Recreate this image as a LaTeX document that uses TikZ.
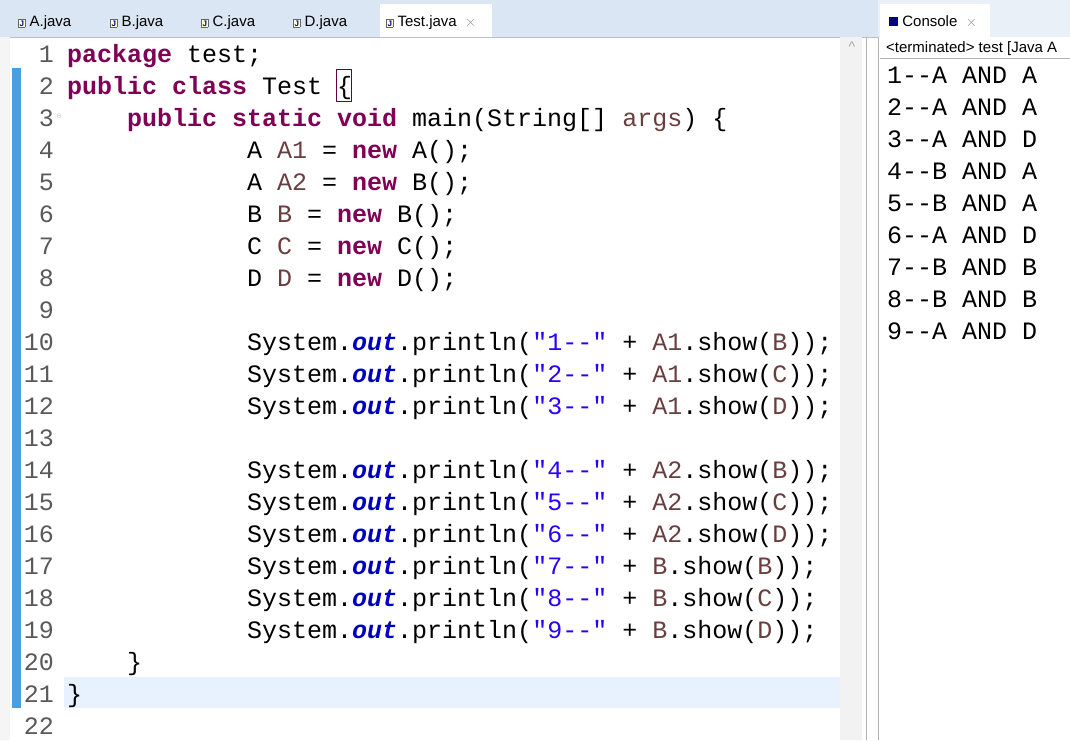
\documentclass[tikz,border=0pt]{standalone}
\usepackage{fontspec}
\setmainfont{Liberation Sans}
\setmonofont{Liberation Mono}
\usetikzlibrary{positioning}
\definecolor{kwcol}{HTML}{7F0055}
\definecolor{strcol}{HTML}{2A00FF}
\definecolor{fldcol}{HTML}{0000C0}
\definecolor{varcol}{HTML}{6A3E3E}
\definecolor{tabbar}{HTML}{DAE6F4}
\definecolor{curline}{HTML}{E8F2FE}
\definecolor{gutblue}{HTML}{4A9FE0}
\newcommand{\kw}[1]{\textcolor{kwcol}{\bfseries #1}}
\newcommand{\str}[1]{\textcolor{strcol}{#1}}
\newcommand{\fld}[1]{\textcolor{fldcol}{\bfseries\itshape #1}}
\newcommand{\vr}[1]{\textcolor{varcol}{#1}}
\newcommand{\prn}[2]{System.\fld{out}.println(\str{"#1--"} + #2);}
\newcommand{\jicon}{\fcolorbox{black!60}{yellow!15}{\fontsize{8}{8}\selectfont\bfseries\textcolor{blue!50!black}{J}}}
\begin{document}
\begin{tikzpicture}[x=1pt,y=-1pt,
  code/.style={anchor=base west,inner sep=0pt,font=\ttfamily\fontsize{25}{25}\selectfont},
  lnum/.style={anchor=base east,inner sep=0pt,text=black!65,font=\ttfamily\fontsize{25}{25}\selectfont},
  tab/.style={anchor=base west,inner sep=0pt,font=\fontsize{15}{15}\selectfont}]
\useasboundingbox (0,0) rectangle (1070,740);
\setlength{\fboxsep}{1pt}
% Tab bars
\fill[tabbar] (0,0) rectangle (878,37);
\fill[tabbar!60] (878,0) rectangle (1070,37);
\fill[white] (380,4) rectangle (492,37);
\fill[white] (880,4) rectangle (990,37);
\draw[black!25] (0,37) -- (878,37);
% Editor
\fill[black!4] (0,37) rectangle (10,740);
\fill[black!5] (840,37) rectangle (862,740);
\draw[black!30] (866,37) -- (866,740);
\draw[black!30] (878,37) -- (878,740);
\fill[curline] (64,677) rectangle (840,708);
\fill[gutblue] (12,68) rectangle (21,708);
\node[text=black!35,font=\fontsize{14}{14}\selectfont] (scrollup) at (852,47) {\^{}};
% Tabs
\node[tab] (tA) at (18,26) {\jicon\ A.java};
\node[tab] (tB) at (110,26) {\jicon\ B.java};
\node[tab] (tC) at (201,26) {\jicon\ C.java};
\node[tab] (tD) at (293,26) {\jicon\ D.java};
\node[tab] (tT) at (386,26) {\jicon\ Test.java\ \ \textcolor{black!45}{$\times$}};
\node[tab] (tCon) at (889,26) {\textcolor{blue!50!black}{\rule{9pt}{9pt}}\ Console\ \ \textcolor{black!45}{$\times$}};
% Line numbers
\foreach \n in {1,...,22}
  \node[lnum] (ln\n) at (54,{53+32*(\n-1)+9}) {\n};
\node[text=black!50,font=\tiny] (fold) at (59,116) {$\ominus$};
% Code
\node[code] (c1) at (67,62) {\kw{package} test;};
\node[code] (c2) at (67,94) {\kw{public} \kw{class} Test \{};
\draw[kwcol!80!black] (336,69) rectangle (351,101);
\node[code] (c3) at (127,126) {\kw{public} \kw{static} \kw{void} main(String[] \vr{args}) \{};
\node[code] (c4) at (247,158) {A \vr{A1} = \kw{new} A();};
\node[code] (c5) at (247,190) {A \vr{A2} = \kw{new} B();};
\node[code] (c6) at (247,222) {B \vr{B} = \kw{new} B();};
\node[code] (c7) at (247,254) {C \vr{C} = \kw{new} C();};
\node[code] (c8) at (247,286) {D \vr{D} = \kw{new} D();};
\node[code] (c10) at (247,350) {\prn{1}{\vr{A1}.show(\vr{B})}};
\node[code] (c11) at (247,382) {\prn{2}{\vr{A1}.show(\vr{C})}};
\node[code] (c12) at (247,414) {\prn{3}{\vr{A1}.show(\vr{D})}};
\node[code] (c14) at (247,478) {\prn{4}{\vr{A2}.show(\vr{B})}};
\node[code] (c15) at (247,510) {\prn{5}{\vr{A2}.show(\vr{C})}};
\node[code] (c16) at (247,542) {\prn{6}{\vr{A2}.show(\vr{D})}};
\node[code] (c17) at (247,574) {\prn{7}{\vr{B}.show(\vr{B})}};
\node[code] (c18) at (247,606) {\prn{8}{\vr{B}.show(\vr{C})}};
\node[code] (c19) at (247,638) {\prn{9}{\vr{B}.show(\vr{D})}};
\node[code] (c20) at (127,670) {\}};
\node[code] (c21) at (67,702) {\}};
% Console
\node[tab] (term) at (886,52) {<terminated> test [Java A};
\draw[black!30] (880,58) -- (1070,58);
\foreach \t [count=\i] in {A AND A,A AND A,A AND D,B AND A,B AND A,A AND D,B AND B,B AND B,A AND D}
  \node[code] (out\i) at (887,{83+32*(\i-1)}) {\i-{}-\t};
\end{tikzpicture}
\end{document}
